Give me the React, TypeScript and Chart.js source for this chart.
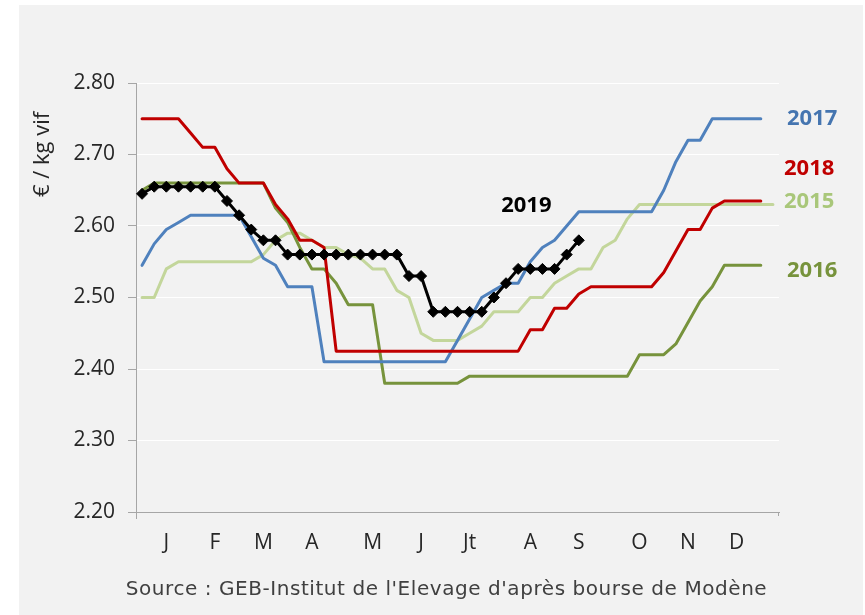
import React, { useEffect, useRef } from 'react';
import { Chart, registerables } from 'chart.js';

Chart.register(...registerables);

// 53 weekly categories; month initials at the week where they are printed
const weekLabels: string[] = [
  '', '', 'J', '', '', '', 'F', '', '', '', 'M', '', '', '', 'A', '', '', '', '', 'M',
  '', '', '', 'J', '', '', '', 'Jt', '', '', '', '', 'A', '', '', '', 'S', '', '', '',
  '', 'O', '', '', '', 'N', '', '', '', 'D', '', '', '',
];

const yTicks = [2.2, 2.8, 0.1]; // min, max, step

const s2015: (number | null)[] = [
  2.50, 2.50, 2.54, 2.55, 2.55, 2.55, 2.55, 2.55, 2.55, 2.55,
  2.56, 2.58, 2.59, 2.59, 2.58, 2.57, 2.57, 2.56, 2.555, 2.54,
  2.54, 2.51, 2.50, 2.45, 2.44, 2.44, 2.44, 2.45, 2.46, 2.48,
  2.48, 2.48, 2.50, 2.50, 2.52, 2.53, 2.54, 2.54, 2.57, 2.58,
  2.61, 2.63, 2.63, 2.63, 2.63, 2.63, 2.63, 2.63, 2.63, 2.63,
  2.63, 2.63, 2.63,
];

const s2016: (number | null)[] = [
  2.65, 2.66, 2.66, 2.66, 2.66, 2.66, 2.66, 2.66, 2.66, 2.66,
  2.66, 2.625, 2.605, 2.57, 2.54, 2.54, 2.52, 2.49, 2.49, 2.49,
  2.38, 2.38, 2.38, 2.38, 2.38, 2.38, 2.38, 2.39, 2.39, 2.39,
  2.39, 2.39, 2.39, 2.39, 2.39, 2.39, 2.39, 2.39, 2.39, 2.39,
  2.39, 2.42, 2.42, 2.42, 2.435, 2.465, 2.495, 2.515, 2.545, 2.545,
  2.545, 2.545, null,
];

const s2017: (number | null)[] = [
  2.545, 2.575, 2.595, 2.605, 2.615, 2.615, 2.615, 2.615, 2.615, 2.585,
  2.555, 2.545, 2.515, 2.515, 2.515, 2.41, 2.41, 2.41, 2.41, 2.41,
  2.41, 2.41, 2.41, 2.41, 2.41, 2.41, 2.44, 2.47, 2.50, 2.51,
  2.52, 2.52, 2.55, 2.57, 2.58, 2.60, 2.62, 2.62, 2.62, 2.62,
  2.62, 2.62, 2.62, 2.65, 2.69, 2.72, 2.72, 2.75, 2.75, 2.75,
  2.75, 2.75, null,
];

const s2018: (number | null)[] = [
  2.75, 2.75, 2.75, 2.75, 2.73, 2.71, 2.71, 2.68, 2.66, 2.66,
  2.66, 2.63, 2.61, 2.58, 2.58, 2.57, 2.425, 2.425, 2.425, 2.425,
  2.425, 2.425, 2.425, 2.425, 2.425, 2.425, 2.425, 2.425, 2.425, 2.425,
  2.425, 2.425, 2.455, 2.455, 2.485, 2.485, 2.505, 2.515, 2.515, 2.515,
  2.515, 2.515, 2.515, 2.535, 2.565, 2.595, 2.595, 2.625, 2.635, 2.635,
  2.635, 2.635, null,
];

const s2019: (number | null)[] = [
  2.645, 2.655, 2.655, 2.655, 2.655, 2.655, 2.655, 2.635, 2.615, 2.595,
  2.58, 2.58, 2.56, 2.56, 2.56, 2.56, 2.56, 2.56, 2.56, 2.56,
  2.56, 2.56, 2.53, 2.53, 2.48, 2.48, 2.48, 2.48, 2.48, 2.50,
  2.52, 2.54, 2.54, 2.54, 2.54, 2.56, 2.58,
];

const seriesNames = ['2015', '2016', '2017', '2018', '2019'];
const seriesColors = ['#c3d69b', '#77933c', '#4f81bd', '#c00000', '#000000'];
const labelColors = ['#a9c77a', '#77933c', '#4575b0', '#c00000', '#000000'];

const yTitle = '€ / kg vif';
const sourceText = "Source : GEB-Institut de l'Elevage d'après bourse de Modène";

const FONT = '"Open Sans", "DejaVu Sans", sans-serif';

const annotPlugin = {
  id: 'annot',
  afterDraw(chart: any) {
    const { ctx, chartArea, scales } = chart;
    const xs = scales.x;
    const ys = scales.y;
    ctx.save();
    // small end ticks under the x axis
    ctx.strokeStyle = '#a6a6a6';
    ctx.lineWidth = 1;
    ctx.beginPath();
    const l = Math.round(chartArea.left) + 0.5;
    const r = Math.round(chartArea.right) - 0.5;
    ctx.moveTo(l, chartArea.bottom);
    ctx.lineTo(l, chartArea.bottom + 7);
    ctx.moveTo(r, chartArea.bottom);
    ctx.lineTo(r, chartArea.bottom + 4);
    ctx.stroke();

    // series labels
    ctx.font = 'bold 22px ' + FONT;
    ctx.textBaseline = 'middle';
    ctx.textAlign = 'left';
    const right = chartArea.right;
    const place: { i: number; x: number; v: number }[] = [
      { i: 2, x: right + 8, v: 2.75 },
      { i: 3, x: right + 5, v: 2.68 },
      { i: 0, x: right + 5, v: 2.634 },
      { i: 1, x: right + 8, v: 2.537 },
      { i: 4, x: xs.getPixelForValue(29.6), v: 2.628 },
    ];
    for (const p of place) {
      ctx.fillStyle = labelColors[p.i];
      ctx.fillText(seriesNames[p.i], p.x, ys.getPixelForValue(p.v));
    }

    // y title
    ctx.save();
    ctx.font = '22px ' + FONT;
    ctx.fillStyle = '#262626';
    ctx.translate(24, ys.getPixelForValue(2.7));
    ctx.rotate(-Math.PI / 2);
    ctx.textAlign = 'center';
    ctx.fillText(yTitle, 0, 0);
    ctx.restore();

    // source
    ctx.font = '20px "DejaVu Sans", sans-serif';
    ctx.fillStyle = '#404040';
    ctx.textAlign = 'center';
    const w = ctx.measureText(sourceText).width;
    const target = 641;
    (ctx as any).letterSpacing = ((target - w) / (sourceText.length - 1)).toFixed(2) + 'px';
    ctx.fillText(sourceText, 427.5, 585);
    ctx.restore();
  },
};

export default function App() {
  const ref = useRef<HTMLCanvasElement | null>(null);
  useEffect(() => {
    if (!ref.current) return;
    const series = [s2015, s2016, s2017, s2018, s2019];
    const orders = [4, 3, 2, 1, 0];
    const datasets = series.map((d, k) => {
      const is19 = k === 4;
      return {
        label: seriesNames[k],
        data: d,
        borderColor: seriesColors[k],
        backgroundColor: seriesColors[k],
        borderWidth: 3,
        tension: 0,
        borderCapStyle: 'round' as const,
        borderJoinStyle: 'round' as const,
        pointRadius: is19 ? 5.5 : 0,
        pointStyle: 'rectRot' as const,
        pointBackgroundColor: seriesColors[k],
        pointBorderColor: seriesColors[k],
        pointBorderWidth: 1,
        spanGaps: false,
        order: orders[k],
        fill: false,
      };
    });
    const chart = new Chart(ref.current, {
      type: 'line',
      data: { labels: weekLabels, datasets },
      options: {
        responsive: false,
        animation: false,
        devicePixelRatio: 1,
        layout: { padding: { top: 78, right: 84, left: 0, bottom: 0 } },
        plugins: {
          legend: { display: false },
          tooltip: { enabled: false },
          title: { display: false },
        },
        scales: {
          x: {
            type: 'category',
            offset: true,
            grid: { display: false },
            border: { display: true, color: '#a6a6a6', width: 1 },
            ticks: {
              autoSkip: false,
              maxRotation: 0,
              minRotation: 0,
              padding: 10,
              color: '#262626',
              font: { family: FONT, size: 21 },
            },
            afterFit(s: any) {
              s.height = 103;
            },
          },
          y: {
            min: yTicks[0],
            max: yTicks[1],
            ticks: {
              stepSize: yTicks[2],
              callback: (v: any) => Number(v).toFixed(2),
              padding: 13,
              color: '#262626',
              font: { family: FONT, size: 21 },
            },
            grid: { color: '#ffffff', lineWidth: 1, tickColor: '#a6a6a6', tickLength: 8 },
            border: { color: '#a6a6a6', width: 1 },
            afterFit(s: any) {
              s.width = 117;
            },
          },
        },
      },
      plugins: [annotPlugin],
    } as any);
    return () => chart.destroy();
  }, []);
  return (
    <div
      style={{
        position: 'absolute',
        left: 19,
        top: 5,
        width: 844,
        height: 610,
        background: '#f2f2f2',
      }}
    >
      <canvas ref={ref} width={844} height={610} style={{ display: 'block' }} />
    </div>
  );
}
